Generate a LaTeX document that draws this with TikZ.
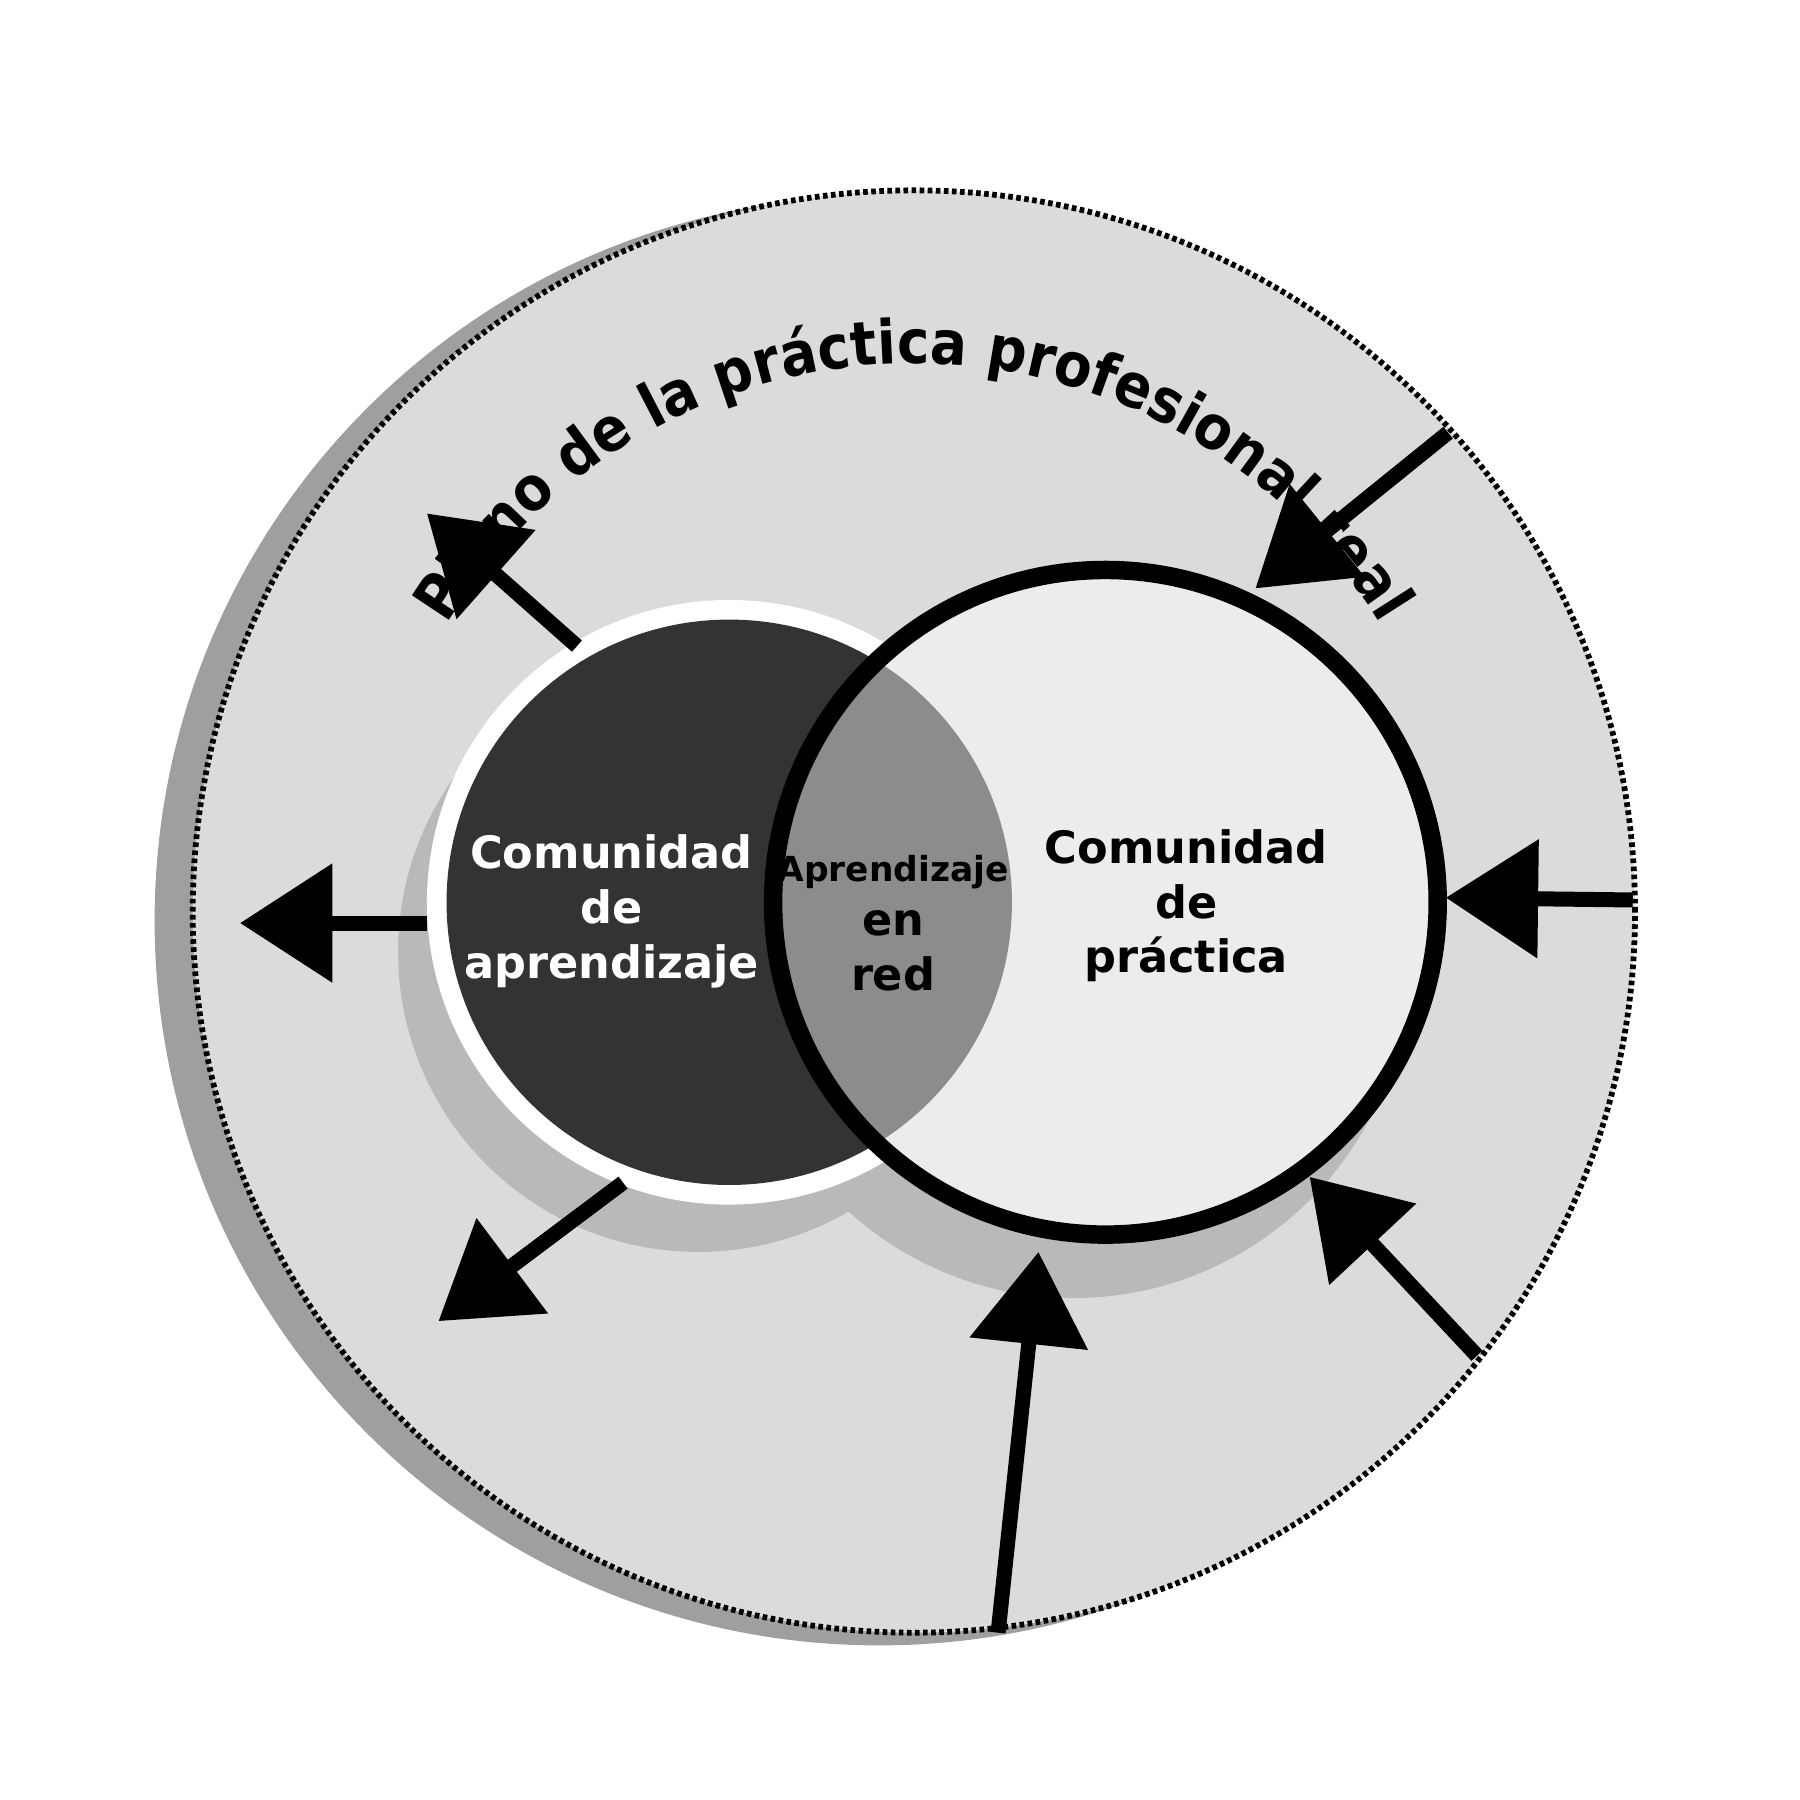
\documentclass[tikz,border=0pt]{standalone}
\usepackage{fontspec}
\setmainfont{DejaVu Sans}
\newfontfamily\titlefont{DejaVu Sans Condensed}
\usetikzlibrary{arrows.meta,decorations.text}

\tikzset{
  bigarrow/.style={line width=0.13cm,-{Triangle[length=0.8cm,width=1.0cm]}},
  label/.style={align=center,font=\bfseries\fontsize{11}{13.5}\selectfont}
}

\begin{document}
\begin{tikzpicture}
\useasboundingbox (0,0) rectangle (15.6,15.6);
% plane
\fill[gray!75] (7.62,7.62) circle (6.28);
\fill[gray!28] (7.92,7.70) circle (6.25);
\draw[line width=0.05cm,dash pattern=on 0.04cm off 0.03cm] (7.92,7.70) circle (6.25);
\coordinate (O) at (7.92,7.70);

% shadows
\fill[gray!55] (6.05,7.35) circle (2.6);
\fill[gray!55] (9.3,7.25) circle (2.9);

% communities
\coordinate (L) at (6.32,7.78);
\coordinate (R) at (9.58,7.78);
\fill[white] (L) circle (2.62);
\fill[black!80] (L) circle (2.45);
\fill[gray!15] (R) circle (2.88);
\begin{scope}
  \clip (L) circle (2.45);
  \fill[gray!90!white] (R) circle (2.88);
\end{scope}
\draw[line width=0.16cm] (R) circle (2.88);

% title
\path[decorate,decoration={text along path,text align=center,
  text={|\titlefont\bfseries\fontsize{15}{18}\selectfont|Plano de la pr{á}ctica profesional real}}]
  (O) ++(150:4.75) arc (150:30:4.75);

% labels
\node[label,text=white] (ca) at (5.3,7.7) {Comunidad\\de\\aprendizaje};
\node[label,align=center] (ar) at (7.74,7.6)
  {{\fontsize{8.5}{10}\selectfont Aprendizaje}\\en\\red};
\node[label] (cp) at (10.28,7.75) {Comunidad\\de\\práctica};

% outward arrows
\coordinate (a1s) at (5.0,10.0);  \coordinate (a1e) at (3.7,11.15);
\coordinate (a2s) at (3.7,7.6);   \coordinate (a2e) at (2.08,7.6);
\coordinate (a3s) at (5.4,5.35);  \coordinate (a3e) at (3.8,4.15);
\foreach \a in {a1,a2,a3}
  \draw[bigarrow] (\a s) -- (\a e);

% inward arrows
\coordinate (b1s) at (12.55,11.85); \coordinate (b1e) at (10.88,10.5);
\coordinate (b2s) at (14.15,7.8);   \coordinate (b2e) at (12.53,7.82);
\coordinate (b3s) at (12.8,3.85);   \coordinate (b3e) at (11.35,5.4);
\coordinate (b4s) at (8.65,1.45);   \coordinate (b4e) at (9.0,4.75);
\foreach \b in {b1,b2,b3,b4}
  \draw[bigarrow] (\b s) -- (\b e);
\end{tikzpicture}
\end{document}
